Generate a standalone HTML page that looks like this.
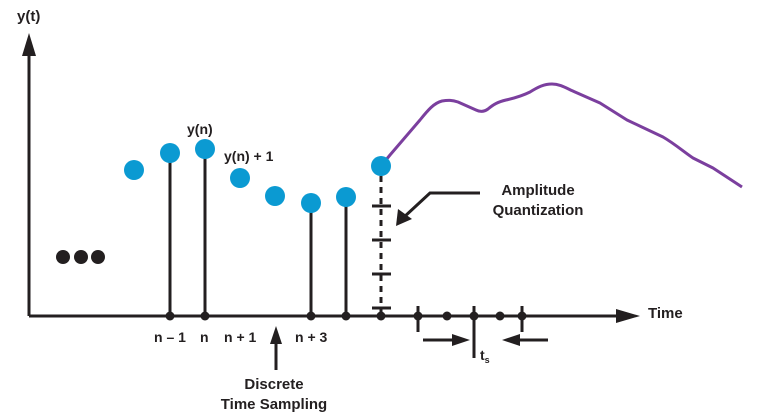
<!DOCTYPE html>
<html><head><meta charset="utf-8"><style>body{margin:0;background:#fff}svg{display:block}text{font-family:"Liberation Sans",sans-serif;font-weight:bold;fill:#231f20}</style></head><body>
<svg width="761" height="419" viewBox="0 0 761 419">
<g stroke="#231f20" stroke-width="3" fill="none">
<line x1="29" y1="316" x2="29" y2="50"/>
<line x1="29" y1="316" x2="620" y2="316"/>
<line x1="170" y1="316" x2="170" y2="153"/>
<line x1="205" y1="316" x2="205" y2="149"/>
<line x1="311" y1="316" x2="311" y2="203"/>
<line x1="346" y1="316" x2="346" y2="197"/>
<line x1="381" y1="176" x2="381" y2="312" stroke-dasharray="6,5"/>
<line x1="372" y1="206" x2="391" y2="206"/><line x1="372" y1="240" x2="391" y2="240"/>
<line x1="372" y1="274" x2="391" y2="274"/><line x1="372" y1="308" x2="391" y2="308"/>
<line x1="418" y1="306" x2="418" y2="332"/><line x1="474" y1="306" x2="474" y2="358"/><line x1="522" y1="306" x2="522" y2="332"/>
<line x1="423" y1="340" x2="455" y2="340"/><line x1="548" y1="340" x2="517" y2="340"/>
<line x1="276" y1="370" x2="276" y2="340"/>
<polyline points="480,193 430,193 403,218"/>
</g>
<g fill="#231f20">
<polygon points="29,33 22,56 36,56"/>
<polygon points="640,316 616,309 616,323"/>
<polygon points="470,340 452,334 452,346"/>
<polygon points="502,340 520,334 520,346"/>
<polygon points="276,326 270,344 282,344"/>
<polygon points="396,226 398,209 412,219"/>
<circle cx="63" cy="257" r="7"/><circle cx="81" cy="257" r="7"/><circle cx="98" cy="257" r="7"/>
<circle cx="170" cy="316" r="4.5"/><circle cx="205" cy="316" r="4.5"/><circle cx="311" cy="316" r="4.5"/><circle cx="346" cy="316" r="4.5"/><circle cx="381" cy="316" r="4.5"/>
<circle cx="418" cy="316" r="4.5"/><circle cx="447" cy="316" r="4.5"/><circle cx="474" cy="316" r="4.5"/><circle cx="500" cy="316" r="4.5"/><circle cx="522" cy="316" r="4.5"/>
</g>
<path d="M381,166 L390,155 L420,120 C428,110 434,103 442,101 C448,100 452,100 458,102 L476,110 C480,112 484,112 488,109 C494,104 498,102 506,100 C515,98 522,96 530,92 C538,87 544,84 552,84 C560,84 566,88 575,92 L600,103 L627,120 L663,137 C675,144 684,152 693,158 L713,168 L742,187" stroke="#7b3f9e" stroke-width="3" fill="none" stroke-linejoin="round"/>
<g fill="#0b9ad2">
<circle cx="134" cy="170" r="10"/><circle cx="170" cy="153" r="10"/><circle cx="205" cy="149" r="10"/><circle cx="240" cy="178" r="10"/>
<circle cx="275" cy="196" r="10"/><circle cx="311" cy="203" r="10"/><circle cx="346" cy="197" r="10"/><circle cx="381" cy="166" r="10"/>
</g>
<text x="17" y="21" font-size="15">y(t)</text>
<text x="187" y="134" font-size="14">y(n)</text>
<text x="224" y="161" font-size="14">y(n) + 1</text>
<text x="154" y="342" font-size="14">n – 1</text>
<text x="200" y="342" font-size="14">n</text>
<text x="224" y="342" font-size="14">n + 1</text>
<text x="295" y="342" font-size="14">n + 3</text>
<text x="274" y="389" font-size="15" text-anchor="middle">Discrete</text>
<text x="274" y="409" font-size="15" text-anchor="middle">Time Sampling</text>
<text x="538" y="195" font-size="15" text-anchor="middle">Amplitude</text>
<text x="538" y="215" font-size="15" text-anchor="middle">Quantization</text>
<text x="648" y="318" font-size="15">Time</text>
<text x="480" y="360" font-size="14">t<tspan font-size="9" dy="3">s</tspan></text>
</svg>
</body></html>
